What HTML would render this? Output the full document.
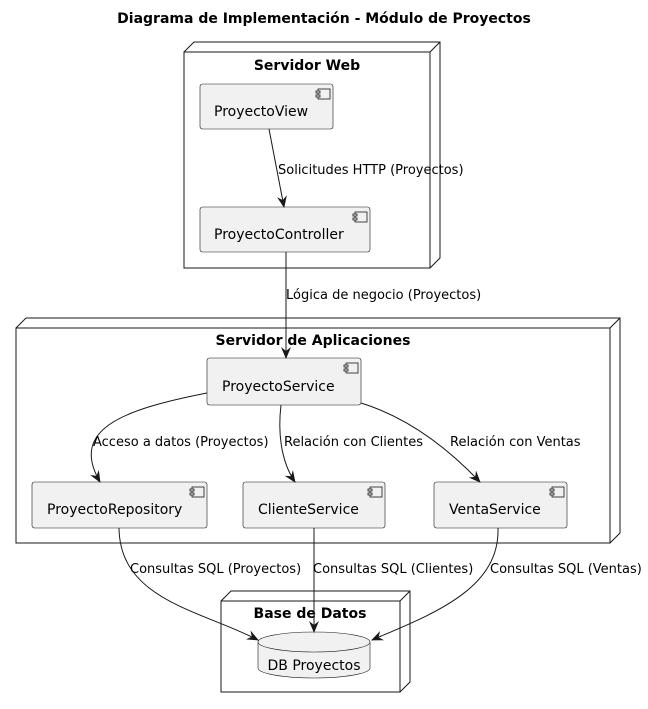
<!DOCTYPE html>
<html><head><meta charset="utf-8"><style>
html,body{margin:0;padding:0;background:#fff}
svg{display:block}
text{font-family:"DejaVu Sans","Liberation Sans",sans-serif}
</style></head><body>
<svg width="648" height="709" viewBox="0 0 648 709" xmlns="http://www.w3.org/2000/svg">
<defs>
<marker id="a" viewBox="0 0 12 10" refX="11" refY="5" markerWidth="12" markerHeight="10" markerUnits="userSpaceOnUse" orient="auto">
<path d="M0,0 L12,5 L0,10 L4,5 Z" fill="#181818"/>
</marker>
<g id="ic"><rect x="0" y="0" width="12" height="10" fill="#f1f1f1" stroke="#181818" stroke-width="0.8"/><rect x="-2" y="2" width="4" height="2" fill="#f1f1f1" stroke="#181818" stroke-width="0.8"/><rect x="-2" y="6" width="4" height="2" fill="#f1f1f1" stroke="#181818" stroke-width="0.8"/></g>
</defs>
<text x="324" y="23" text-anchor="middle" font-size="14" font-weight="bold">Diagrama de Implementación - Módulo de Proyectos</text>

<g fill="#fff" stroke="#181818" stroke-width="1">
<path d="M184,52 L194,42 L440,42 L440,258 L430,268 M430,52 L440,42"/>
<rect x="184" y="52" width="246" height="216"/>
<path d="M16,328 L26,318 L620,318 L620,533 L610,543 M610,328 L620,318"/>
<rect x="16" y="328" width="594" height="215"/>
<path d="M221,601 L231,591 L410,591 L410,682 L400,692 M400,601 L410,591"/>
<rect x="221" y="601" width="179" height="91"/>
</g>
<g font-size="14" font-weight="bold" text-anchor="middle">
<text x="307" y="70">Servidor Web</text>
<text x="313" y="345">Servidor de Aplicaciones</text>
<text x="310" y="618">Base de Datos</text>
</g>

<g fill="#f1f1f1" stroke="#181818" stroke-width="0.6">
<rect x="200" y="84" width="133" height="45" rx="2.5"/>
<rect x="200" y="207" width="170" height="45" rx="2.5"/>
<rect x="207" y="358" width="154" height="47" rx="2.5"/>
<rect x="32" y="482" width="175" height="46" rx="2.5"/>
<rect x="243" y="482" width="142" height="46" rx="2.5"/>
<rect x="434" y="482" width="133" height="46" rx="2.5"/>
<path d="M258,642 L258,668 A56,10 0 0 0 370,668 L370,642"/>
<ellipse cx="314" cy="642" rx="56" ry="10"/>
</g>
<use href="#ic" x="318" y="89"/>
<use href="#ic" x="355" y="212"/>
<use href="#ic" x="346" y="363"/>
<use href="#ic" x="192" y="487"/>
<use href="#ic" x="370" y="487"/>
<use href="#ic" x="552" y="487"/>

<g font-size="14">
<text x="214" y="116">ProyectoView</text>
<text x="214" y="239">ProyectoController</text>
<text x="222" y="391">ProyectoService</text>
<text x="47" y="514">ProyectoRepository</text>
<text x="258" y="514">ClienteService</text>
<text x="449" y="514">VentaService</text>
<text x="314" y="670" text-anchor="middle">DB Proyectos</text>
</g>

<g fill="none" stroke="#181818" stroke-width="1" marker-end="url(#a)">
<path d="M269,129 L284,207"/>
<path d="M286,252 L286,358"/>
<path d="M207,393 C120,410 70,430 100,482"/>
<path d="M281,405 C278,430 280,460 295,482"/>
<path d="M361,403 C400,415 440,440 480,482"/>
<path d="M119,528 C120,600 200,610 258,640"/>
<path d="M314,528 L314,632"/>
<path d="M498,528 C500,590 430,615 372,640"/>
</g>

<g font-size="13">
<text x="278" y="174">Solicitudes HTTP (Proyectos)</text>
<text x="286" y="299">Lógica de negocio (Proyectos)</text>
<text x="93" y="446">Acceso a datos (Proyectos)</text>
<text x="284" y="446">Relación con Clientes</text>
<text x="450" y="446">Relación con Ventas</text>
<text x="130" y="573">Consultas SQL (Proyectos)</text>
<text x="313" y="573">Consultas SQL (Clientes)</text>
<text x="490" y="573">Consultas SQL (Ventas)</text>
</g>
</svg>
</body></html>
